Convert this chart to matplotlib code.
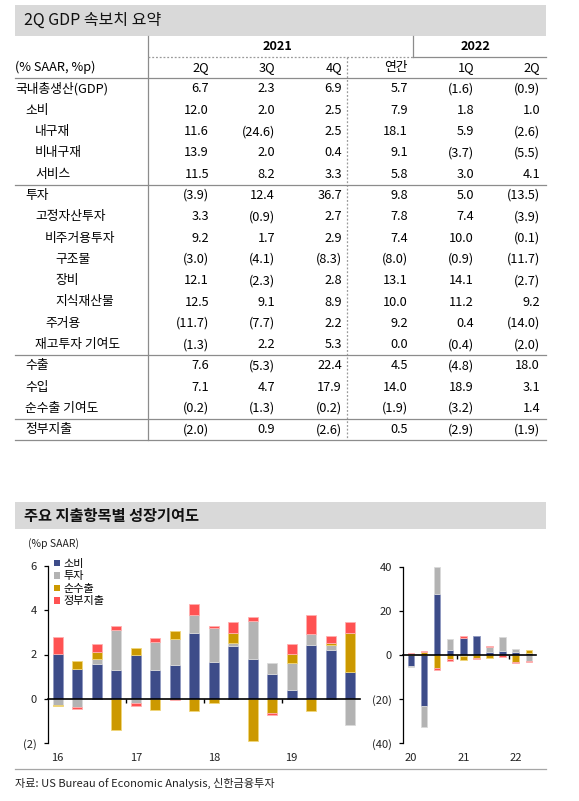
import numpy as np
import matplotlib
matplotlib.use('Agg')
import matplotlib.pyplot as plt
from matplotlib.patches import Rectangle, Patch

plt.rcParams['font.family'] = ['Noto Sans CJK KR', 'DejaVu Sans']

# ---------------- table data ----------------
table_title = '2Q GDP 속보치 요약'
unit_label = '(% SAAR, %p)'
year_labels = ['2021', '2022']
col_labels = ['2Q', '3Q', '4Q', '연간', '1Q', '2Q']
row_labels = ['국내총생산(GDP)', '소비', '내구재', '비내구재', '서비스', '투자', '고정자산투자',
              '비주거용투자', '구조물', '장비', '지식재산물', '주거용', '재고투자 기여도',
              '수출', '수입', '순수출 기여도', '정부지출']
row_indent = [0, 1, 2, 2, 2, 1, 2, 3, 4, 4, 4, 3, 2, 1, 1, 1, 1]
q2_21 = [6.7, 12.0, 11.6, 13.9, 11.5, -3.9, 3.3, 9.2, -3.0, 12.1, 12.5, -11.7, -1.3, 7.6, 7.1, -0.2, -2.0]
q3_21 = [2.3, 2.0, -24.6, 2.0, 8.2, 12.4, -0.9, 1.7, -4.1, -2.3, 9.1, -7.7, 2.2, -5.3, 4.7, -1.3, 0.9]
q4_21 = [6.9, 2.5, 2.5, 0.4, 3.3, 36.7, 2.7, 2.9, -8.3, 2.8, 8.9, 2.2, 5.3, 22.4, 17.9, -0.2, -2.6]
annual_21 = [5.7, 7.9, 18.1, 9.1, 5.8, 9.8, 7.8, 7.4, -8.0, 13.1, 10.0, 9.2, 0.0, 4.5, 14.0, -1.9, 0.5]
q1_22 = [-1.6, 1.8, 5.9, -3.7, 3.0, 5.0, 7.4, 10.0, -0.9, 14.1, 11.2, 0.4, -0.4, -4.8, 18.9, -3.2, -2.9]
q2_22 = [-0.9, 1.0, -2.6, -5.5, 4.1, -13.5, -3.9, -0.1, -11.7, -2.7, 9.2, -14.0, -2.0, 18.0, 3.1, 1.4, -1.9]

# ---------------- chart data ----------------
chart_title = '주요 지출항목별 성장기여도'
series_names = ['소비', '투자', '순수출', '정부지출']
# 2016Q1 - 2019Q4
cons_a = [2.03, 1.35, 1.58, 1.31, 1.98, 1.31, 1.53, 2.95, 1.65, 2.39, 1.80, 1.14, 0.41, 2.44, 2.21, 1.20]
inv_a = [-0.30, -0.38, 0.21, 1.80, -0.20, 1.25, 1.16, 0.84, 1.54, 0.12, 1.72, 0.47, 1.20, 0.48, 0.21, -1.20]
nx_a = [-0.05, 0.37, 0.32, -1.40, 0.30, -0.53, 0.38, -0.57, -0.20, 0.45, -1.92, -0.65, 0.41, -0.57, 0.09, 1.76]
gov_a = [0.77, -0.08, 0.36, 0.18, -0.15, 0.20, -0.07, 0.47, 0.10, 0.50, 0.16, -0.10, 0.45, 0.88, 0.33, 0.50]
years_a = ['16', '17', '18', '19']
# 2020Q1 - 2022Q2
cons_b = [-4.8, -23.0, 27.8, 2.3, 7.9, 8.6, 1.2, 1.8, 1.2, 0.7]
inv_b = [-0.6, -9.6, 12.0, 4.8, -0.3, -0.2, 2.3, 6.2, 1.4, -2.6]
nx_b = [0.3, 1.5, -6.0, -1.8, -2.0, -1.2, -1.3, -0.2, -3.2, 1.4]
gov_b = [0.4, 0.5, -0.6, -0.8, 0.7, -0.5, 0.6, -0.5, -0.5, -0.4]
years_b = ['20', '21', '22']
source_text = '자료: US Bureau of Economic Analysis, 신한금융투자'

colors = ['#3D4C89', '#B3B3B3', '#CC9900', '#FF5252']
edge_colors = ['#8E97C0', '#DADADA', '#F0D67A', '#FFB0B0']

W, H = 579, 801
fig = plt.figure(figsize=(W / 100, H / 100), dpi=100)

# full-figure axes in pixel coordinates for table / headers
bg = fig.add_axes([0, 0, 1, 1])
bg.set_xlim(0, W)
bg.set_ylim(H, 0)
bg.axis('off')

line_c = '#8C8C8C'
L, R = 14.5, 546

# title box
bg.add_patch(Rectangle((L, 5), R - L, 30.5, color='#D9D9D9', lw=0))
bg.text(24, 20.5, table_title, fontsize=11.5, va='center', ha='left', color='#111111')

row_h = 21.3
y0 = 89.0
col_right = [209, 275, 342, 408, 474, 540]
indent_x = [15, 25, 35, 45, 55]
fs = 9.2


def fmt(v):
    return f'({abs(v):.1f})' if v < 0 else f'{v:.1f}'


# header
bg.text(277, 46.4, year_labels[0], fontsize=fs, fontweight='bold', ha='center', va='center')
bg.text(476, 46.4, year_labels[1], fontsize=fs, fontweight='bold', ha='center', va='center')
bg.text(15, 67.7, unit_label, fontsize=fs, ha='left', va='center')
for cx, lab in zip(col_right, col_labels):
    bg.text(cx, 67.7, lab, fontsize=fs, ha='right', va='center')

# body
cols = [q2_21, q3_21, q4_21, annual_21, q1_22, q2_22]
for i, lab in enumerate(row_labels):
    yy = y0 + i * row_h
    bg.text(indent_x[row_indent[i]], yy, lab, fontsize=fs, ha='left', va='center')
    for cx, vals in zip(col_right, cols):
        bg.text(cx, yy, fmt(vals[i]), fontsize=fs, ha='right', va='center')

# lines
bottom_y = y0 + 16.5 * row_h
bg.plot([148, 148], [35.5, bottom_y], color=line_c, lw=0.9)
bg.plot([413, 413], [35.5, 56.5], color=line_c, lw=0.9)
bg.plot([347, 347], [56.5, bottom_y], color='#9A9A9A', lw=0.9, ls=(0, (1.5, 1.5)))
bg.plot([148, 413], [56.5, 56.5], color='#9A9A9A', lw=0.9, ls=(0, (1.5, 1.5)))
bg.plot([413, R], [56.5, 56.5], color=line_c, lw=0.9)
for k in [-0.5, 4.5, 12.5, 15.5, 16.5]:
    yy = y0 + k * row_h
    bg.plot([L, R], [yy, yy], color=line_c, lw=0.9)

# chart title box
bg.add_patch(Rectangle((L, 502), R - L, 27, color='#D9D9D9', lw=0))
bg.text(24, 515.5, chart_title, fontsize=11, fontweight='bold', va='center', ha='left', color='#111111')
bg.text(28, 544, '(%p SAAR)', fontsize=7.5, va='center', ha='left', color='#222222')

# source
bg.plot([L, R], [769, 769], color='#A6A6A6', lw=0.9)
bg.text(15, 783, source_text, fontsize=8, va='center', ha='left', color='#222222')


def stack_bars(ax, series, width):
    n = len(series[0])
    x = np.arange(n)
    pos = np.zeros(n)
    neg = np.zeros(n)
    for vals, c, ec, name in zip(series, colors, edge_colors, series_names):
        vals = np.asarray(vals, dtype=float)
        bottom = np.where(vals >= 0, pos, neg)
        ax.bar(x, vals, width, bottom=bottom, color=c, edgecolor=ec, linewidth=0.6, label=name, zorder=2)
        pos += np.clip(vals, 0, None)
        neg += np.clip(vals, None, 0)
    return x


def style_axis(ax, yticks, ylabels, ylim, xlim, year_pos, year_labs):
    ax.set_ylim(*ylim)
    ax.set_xlim(*xlim)
    ax.set_yticks(yticks)
    ax.set_yticklabels(ylabels)
    for s in ['top', 'right']:
        ax.spines[s].set_visible(False)
    ax.spines['left'].set_color('black')
    ax.spines['left'].set_linewidth(0.9)
    ax.spines['bottom'].set_position(('data', 0))
    ax.spines['bottom'].set_color('black')
    ax.spines['bottom'].set_linewidth(1.2)
    ax.spines['bottom'].set_zorder(3)
    ax.tick_params(axis='y', direction='out', length=3, width=0.9, labelsize=8, pad=5,
                   color='black', labelcolor='#222222')
    ax.set_xticks([p - 0.5 for p in year_pos[1:]])
    ax.set_xticklabels([])
    ax.tick_params(axis='x', direction='out', length=3, width=1.0, color='black')
    for p, lab in zip(year_pos, year_labs):
        ax.text(p, -0.085, lab, transform=ax.get_xaxis_transform(), fontsize=8,
                ha='center', va='center', color='#222222')
    ax.patch.set_visible(False)


# left chart (2016-2019)
ax1 = fig.add_axes([48 / W, 1 - 743 / H, 312 / W, 177 / H])
stack_bars(ax1, [cons_a, inv_a, nx_a, gov_a], 0.52)
style_axis(ax1, [-2, 0, 2, 4, 6], ['(2)', '0', '2', '4', '6'], (-2, 6), (-0.5, 15.5),
           [0, 4, 8, 12], years_a)
handles = [Patch(facecolor=c, edgecolor='none') for c in colors]
ax1.legend(handles, series_names, loc='upper left', bbox_to_anchor=(0.02, 1.04), frameon=False,
           fontsize=8, handlelength=0.55, handleheight=0.55, handletextpad=0.3, labelspacing=0.22,
           borderaxespad=0, borderpad=0)

# right chart (2020-2022)
ax2 = fig.add_axes([403 / W, 1 - 743 / H, 133 / W, 176 / H])
stack_bars(ax2, [cons_b, inv_b, nx_b, gov_b], 0.5)
style_axis(ax2, [-40, -20, 0, 20, 40], ['(40)', '(20)', '0', '20', '40'], (-40, 40), (-0.6, 9.55),
           [0, 4, 8], years_b)

fig.savefig('out.png', dpi=100)
